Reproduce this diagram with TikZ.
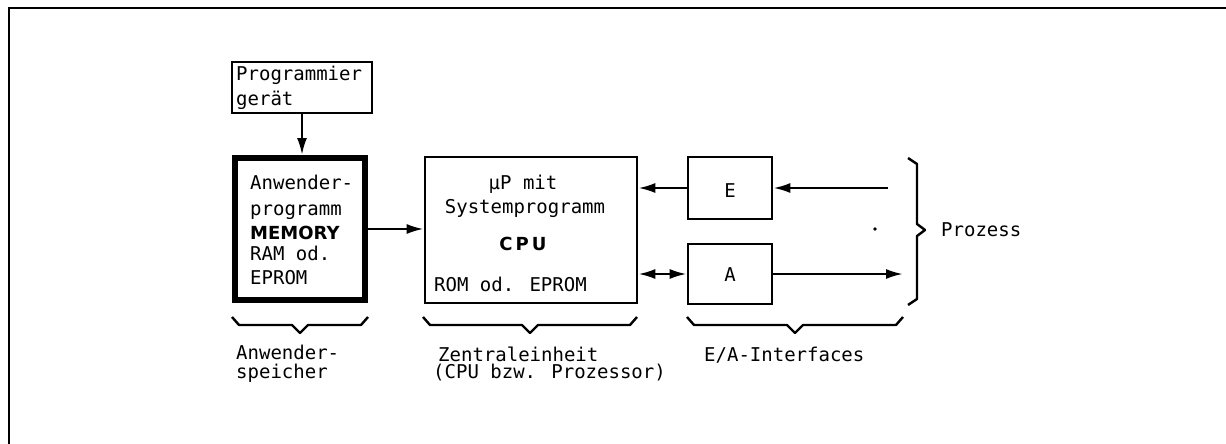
\documentclass[tikz,border=0pt]{standalone}
\usepackage{fontspec}
\newfontfamily\plotfont{DejaVu Sans Mono}
\newfontfamily\boldplot{DejaVu Sans}
\usetikzlibrary{arrows.meta}
\begin{document}
\begin{tikzpicture}[x=1pt,y=-1pt,
  line width=2.4pt,
  box/.style={draw,line width=2.6pt,inner sep=0pt,minimum width=#1},
  thickbox/.style={draw,line width=6pt,inner sep=0pt},
  lbl/.style={font=\plotfont\fontsize{19}{22}\selectfont,inner sep=0pt,anchor=base west},
  clbl/.style={font=\plotfont\fontsize{19}{22}\selectfont,inner sep=0pt,anchor=base},
  blbl/.style={font=\boldplot\bfseries\fontsize{18}{20}\selectfont,inner sep=0pt},
  arr/.style={-{Latex[length=17pt,width=10pt]}},
  darr/.style={{Latex[length=17pt,width=10pt]}-{Latex[length=17pt,width=10pt]}},
  brace/.style={line width=2.4pt,line join=round}]
\useasboundingbox (0,0) rectangle (1226,444);
% frame
\draw[line width=2.6pt] (9,444) -- (9,8) -- (1226,8);

% boxes
\node[box=140pt,minimum height=51pt] (prog) at (302,87.5) {};
\node[thickbox,minimum width=130pt,minimum height=142pt] (mem) at (300,229) {};
\node[box=212pt,minimum height=146pt] (cpu) at (531,230) {};
\node[box=84pt,minimum height=62pt] (E) at (730,188) {};
\node[box=84pt,minimum height=60pt] (A) at (730,274) {};

% texts
\node[lbl] (t1) at (235,81) {Programmier};
\node[lbl] (t2) at (235,106) {gerät};
\node[lbl] (m1) at (249,189) {Anwender-};
\node[lbl] (m2) at (249,215) {programm};
\node[blbl,anchor=base west] (m3) at (249,239) {MEMORY};
\node[lbl] (m4) at (249,260) {RAM od.};
\node[lbl] (m5) at (249,284) {EPROM};
\node[clbl] (c1) at (523,189) {µP mit};
\node[clbl] (c2) at (525,213) {Systemprogramm};
\node[blbl,anchor=base] (c3) at (523,250) {C\,P\,U};
\node[lbl] (c4) at (433,291) {ROM od. EPROM};
\node[clbl] (eL) at (730,197) {E};
\node[clbl] (aL) at (730,281) {A};
\node[lbl] (pz) at (940,236) {Prozess};
\node[lbl] (b1) at (235,359) {Anwender-};
\node[lbl] (b2) at (235,378) {speicher};
\node[lbl] (b3) at (437,361) {Zentraleinheit};
\node[lbl] (b4) at (432,378) {(CPU bzw. Prozessor)};
\node[lbl] (b5) at (703,361) {E/A-Interfaces};

% connectors
\coordinate (ein) at (888,188);
\coordinate (aus) at (903,274);
\draw[arr] (prog.south) -- (prog.south |- mem.north);
\draw[arr] (mem.east) -- (mem.east -| cpu.west);
\draw[arr] (E.west) -- (E.west -| cpu.east);
\draw[arr] (ein) -- (E.east);
\draw[darr] (A.west -| cpu.east) -- (A.west);
\draw[arr] (A.east) -- (aus);
\fill (875,229) circle (1.8pt);

% right brace
\draw[brace] (908,158) -- (917,164) -- (917,224) -- (925,230) -- (917,236) -- (917,299) -- (908,305);

% bottom braces
\draw[brace] (232,317) -- (239,325) -- (292,325) -- (300,333) -- (308,325) -- (361,325) -- (368,317);
\draw[brace] (423,317) -- (430,325) -- (522,325) -- (530,333) -- (538,325) -- (630,325) -- (637,317);
\draw[brace] (687,317) -- (694,325) -- (787,325) -- (795,333) -- (803,325) -- (896,325) -- (903,317);
\end{tikzpicture}
\end{document}
